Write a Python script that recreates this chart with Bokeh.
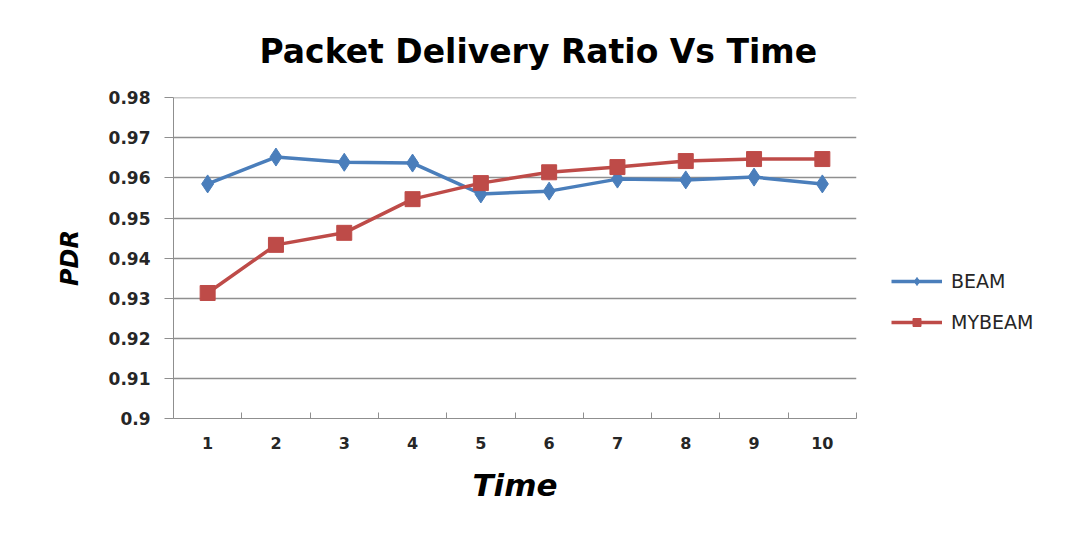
from bokeh.plotting import figure
from bokeh.models import (FixedTicker, Range1d, Legend, LegendItem)
from bokeh.embed import file_html
from bokeh.resources import INLINE

# ---- data ----
time = [1, 2, 3, 4, 5, 6, 7, 8, 9, 10]
beam = [0.9585, 0.9652, 0.9639, 0.9637, 0.9560, 0.9567, 0.9597, 0.9595, 0.9602, 0.9585]
mybeam = [0.9313, 0.9433, 0.9463, 0.9547, 0.9587, 0.9614, 0.9627, 0.9642, 0.9647, 0.9647]
y_tick_labels = ["0.9", "0.91", "0.92", "0.93", "0.94", "0.95", "0.96", "0.97", "0.98"]
x_tick_labels = ["1", "2", "3", "4", "5", "6", "7", "8", "9", "10"]
series_names = ["BEAM", "MYBEAM"]

y_ticks = [float(s) for s in y_tick_labels]
x_ticks = [int(s) for s in x_tick_labels]
x_bounds = [t - 0.5 for t in x_ticks] + [x_ticks[-1] + 0.5]

BLUE = "#4a7ebb"
RED = "#be4b48"
GRID = "#8f8f8f"
TXT = "#262626"

p = figure(frame_width=683, frame_height=321,
           min_border_left=173, min_border_right=196,
           min_border_top=97, min_border_bottom=99,
           output_backend="svg", toolbar_location=None,
           x_range=Range1d(x_bounds[0], x_bounds[-1]),
           y_range=Range1d(y_ticks[0], y_ticks[-1] + 0.00005))

p.outline_line_color = None
p.background_fill_color = "white"
p.border_fill_color = "white"

# title
p.title.text = "Packet Delivery Ratio Vs Time"
p.title.text_font = "DejaVu Sans"
p.title.text_font_style = "bold"
p.title.text_font_size = "33px"
p.title.text_color = "black"
p.title.align = "left"
p.title.offset = 86
p.title.standoff = 53

# y axis
ya = p.yaxis[0]
ya.ticker = FixedTicker(ticks=y_ticks)
ya.major_label_overrides = {v: s for v, s in zip(y_ticks, y_tick_labels)}
ya.major_tick_out = 9
ya.major_tick_in = 0
ya.minor_tick_out = 0
ya.minor_tick_in = 0
ya.axis_line_color = GRID
ya.major_tick_line_color = GRID
ya.major_label_text_font = "DejaVu Sans"
ya.major_label_text_font_style = "bold"
ya.major_label_text_font_size = "17px"
ya.major_label_text_color = TXT
ya.major_label_standoff = 14
ya.axis_label = "PDR"
ya.axis_label_text_font = "DejaVu Sans"
ya.axis_label_text_font_style = "bold italic"
ya.axis_label_text_font_size = "24px"
ya.axis_label_text_color = "black"
ya.axis_label_standoff = 22

# x axis
xa = p.xaxis[0]
xa.ticker = FixedTicker(ticks=x_ticks, minor_ticks=x_bounds)
xa.major_label_overrides = {v: s for v, s in zip(x_ticks, x_tick_labels)}
xa.major_tick_line_color = None
xa.major_tick_out = 0
xa.major_tick_in = 0
xa.minor_tick_in = 6
xa.minor_tick_out = 0
xa.minor_tick_line_color = GRID
xa.axis_line_color = GRID
xa.major_label_text_font = "DejaVu Sans"
xa.major_label_text_font_style = "bold"
xa.major_label_text_font_size = "16px"
xa.major_label_text_color = TXT
xa.major_label_standoff = 18
xa.axis_label = "Time"
xa.axis_label_text_font = "DejaVu Sans"
xa.axis_label_text_font_style = "bold italic"
xa.axis_label_text_font_size = "31px"
xa.axis_label_text_color = "black"
xa.axis_label_standoff = 15

# grid
p.xgrid.grid_line_color = None
p.ygrid.ticker = FixedTicker(ticks=y_ticks)
p.ygrid.grid_line_color = GRID
p.ygrid.grid_line_width = 1.5

# series
l1 = p.line(time, beam, line_color=BLUE, line_width=3.5)
s1 = p.scatter(time, beam, marker="diamond", size=18, fill_color=BLUE, line_color=BLUE)
l2 = p.line(time, mybeam, line_color=RED, line_width=3.5)
s2 = p.scatter(time, mybeam, marker="square", size=15, fill_color=RED, line_color=RED)

legend = Legend(items=[LegendItem(label=series_names[0], renderers=[l1, s1]),
                       LegendItem(label=series_names[1], renderers=[l2, s2])],
                location=(35, 85))
legend.border_line_color = None
legend.background_fill_color = None
legend.margin = 0
legend.padding = 10
legend.glyph_width = 51
legend.glyph_height = 20
legend.label_height = 20
legend.spacing = 19
legend.label_standoff = 9
legend.label_text_font = "DejaVu Sans"
legend.label_text_font_size = "19px"
legend.label_text_color = TXT
p.add_layout(legend, "right")

open("out.html", "w").write(file_html(p, INLINE))
